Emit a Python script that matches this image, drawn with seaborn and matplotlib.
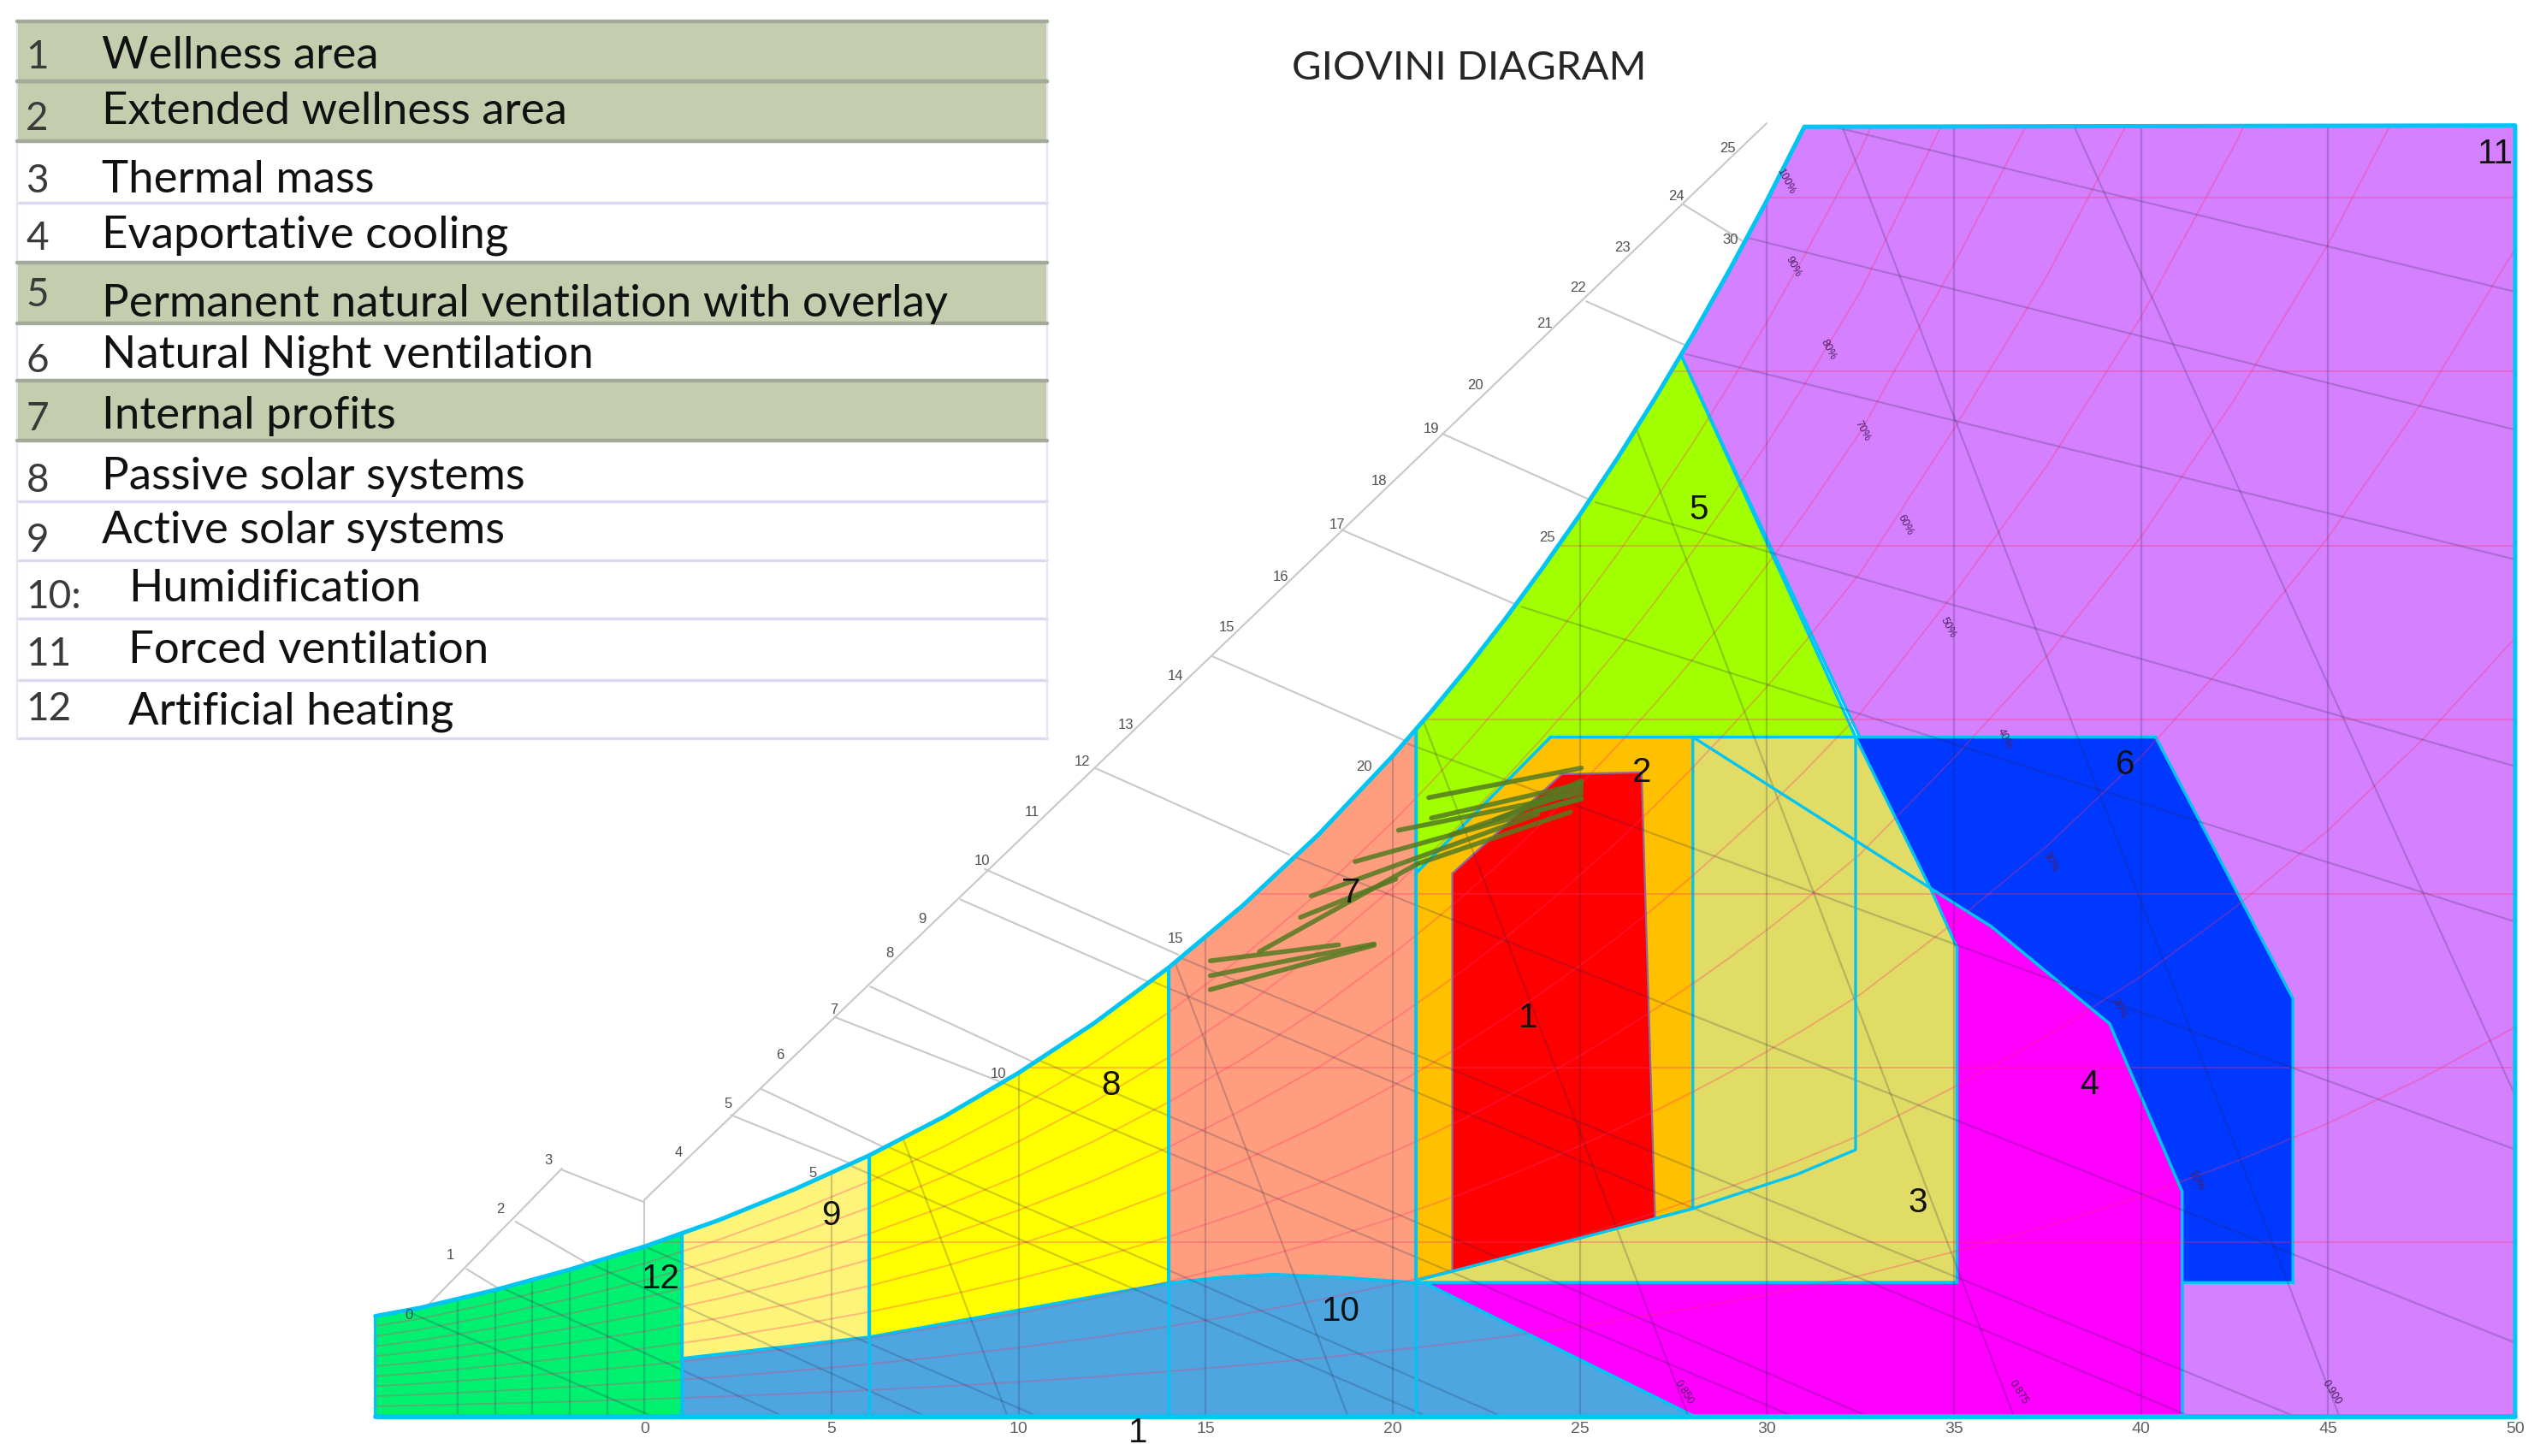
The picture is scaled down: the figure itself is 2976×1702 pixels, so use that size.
import numpy as np
import pandas as pd
import matplotlib
matplotlib.use("Agg")
import matplotlib.pyplot as plt
from matplotlib.patches import Polygon, Rectangle
import seaborn as sns

sns.set_theme(style="white")
plt.rcParams['font.family'] = ['Lato', 'DejaVu Sans']

# ---------------- legend table ----------------
legend_nums = ["1", "2", "3", "4", "5", "6", "7", "8", "9", "10:", "11", "12"]
legend_text = ["Wellness area", "Extended wellness area", "Thermal mass", "Evaportative cooling",
               "Permanent natural ventilation with overlay", "Natural Night ventilation",
               "Internal profits", "Passive solar systems", "Active solar systems",
               "Humidification", "Forced ventilation", "Artificial heating"]
legend_shaded = [1, 1, 0, 0, 1, 0, 1, 0, 0, 0, 0, 0]

# ---------------- chart data (dry bulb C, humidity ratio g/kg) ----------------
sat_T = [-7.2, -6, -4, -2, 0, 2, 4, 6, 8, 10, 12, 14, 16, 18, 20, 21, 22, 23, 24, 25, 26, 27,
         28, 29, 30, 31]
sat_W = [2.30, 2.49, 2.90, 3.37, 3.90, 4.51, 5.21, 5.99, 6.88, 7.89, 9.02, 10.30, 11.74, 13.35,
         15.17, 16.16, 17.20, 18.31, 19.48, 20.71, 22.00, 23.37, 24.81, 26.33, 27.93, 29.62]
# saturation above the chart top, only for the RH grid
sat_T_ext = [32.5, 35, 37.5, 40, 42.5, 45, 47.5, 50]
sat_W_ext = [32.3, 37.8, 43.7, 50.5, 58.4, 67.3, 77.6, 89.4]

T_MIN, T_MAX, W_TOP = -7.2, 50.0, 29.65
x_ticks = [0, 5, 10, 15, 20, 25, 30, 35, 40, 45, 50]
rh_levels = [0.1, 0.2, 0.3, 0.4, 0.5, 0.6, 0.7, 0.8, 0.9]
w_lines = [4, 8, 12, 16, 20, 24, 28]
t_lines = [-5, -4, -3, -2, -1, 0, 5, 10, 15, 20, 25, 30, 35, 40, 45]

# specific volume lines (bottom T, top point)
vol_T_bot = [9.7, 18.8, 27.9, 36.6, 45.3, 53.9]
vol_T_top = [6.9, 14.1, 20.8, 26.5, 32.0, 38.2]
vol_W_top = [6.4, 10.6, 16.0, 22.7, 29.65, 29.65]
vol_labels = ["0.850", "0.875", "0.900"]
vol_label_T = [27.78, 36.72, 45.09]

# diagonal lines across the chart
dg_T0 = [-6.36, -3.74, -1.41, 0.0, 5.52, 6.47, 9.46, 10.48, 13.54, 14.27, 17.23, 20.38, 23.42, 25.4, 27.82, 29.34, 31.64]
dg_W0 = [2.41, 2.92, 3.49, 3.9, 5.75, 6.2, 7.7, 8.2, 10.0, 10.55, 12.9, 15.45, 18.6, 21.0, 24.4, 27.1, 29.65]
dg_T1 = [0.2, 3.7, 7.5, 10.5, 20.9, 22.9, 30.7, 32.7, 41.3, 44.1, 50, 50, 50, 50, 50, 50, 50]
dg_W1 = [0, 0, 0, 0, 0, 0, 0, 0, 0, 0, 1.69, 6.13, 11.36, 14.93, 19.68, 22.66, 25.83]

# wet bulb scale above the curve
wb_T0 = [9.09, 8.44, 6.03, 5.08, 3.11, 2.31, -2.21, -3.45, -4.76, 21.32, 18.63, 15.19, 12.04, 27.74, 25.17, 0.0]
wb_W0 = [12.57, 11.87, 9.87, 9.17, 7.52, 6.92, 5.66, 4.47, 3.38, 22.57, 20.36, 17.45, 14.89, 27.85, 25.61, 4.94]
wb_T1 = [14.27, 13.54, 10.48, 9.46, 6.47, 5.52, -0.02, -1.41, -3.74, 25.4, 23.42, 20.38, 17.23, 29.34, 27.82, 0.0]
wb_W1 = [10.6, 9.95, 8.1, 7.7, 6.15, 5.8, 4.92, 3.45, 2.85, 21.0, 18.6, 15.5, 12.9, 27.0, 24.6, 3.9]
scale_T = [[-5.93, -2.21], [-0.02, 29.99]]
scale_W = [[2.43, 5.69], [4.96, 29.70]]
scale_labels = [str(i) for i in range(26)]
scale_lab_T = [-6.30, -5.20, -3.85, -2.57, 0.92, 2.24, 3.62, 5.05, 6.54, 7.42, 9.02, 10.35, 11.69,
               12.86, 14.18, 15.57, 17.0, 18.52, 19.64, 21.04, 22.2, 24.05, 24.94, 26.14, 27.58, 28.95]
scale_lab_W = [2.32, 3.69, 4.75, 5.87, 6.05, 7.17, 8.29, 9.34, 10.64, 11.41, 12.75, 13.87, 15.03,
               15.87, 16.99, 18.11, 19.28, 20.47, 21.47, 22.67, 23.68, 25.09, 25.92, 26.84, 28.02, 29.12]
curve_labels = ["5", "10", "15", "20", "25", "30"]
curve_lab_T = [4.5, 9.46, 14.2, 19.22, 24.12, 29.03]
curve_lab_W = [5.59, 7.87, 10.96, 14.92, 20.18, 27.01]
rh_labels = ["100%", "90%", "80%", "70%", "60%", "50%", "40%", "30%", "20%", "10%"]
rh_lab_T = [30.49, 30.71, 31.64, 32.56, 33.70, 34.84, 36.35, 37.58, 39.42, 41.46]
rh_lab_W = [28.37, 26.40, 24.51, 22.63, 20.48, 18.11, 15.55, 12.74, 9.37, 5.42]

# climate data segments
clim_T0 = [20.96, 21.03, 20.15, 18.99, 20.66, 17.82, 17.53, 16.43, 15.12, 15.12, 15.12, 22.71, 21.54, 23.5, 23.8]
clim_W0 = [14.21, 13.74, 13.46, 12.74, 12.69, 11.95, 11.46, 10.67, 10.46, 10.12, 9.80, 13.70, 13.35, 14.0, 13.9]
clim_T1 = [25.04, 25.04, 25.04, 25.04, 24.75, 23.87, 20.08, 20.66, 18.55, 19.50, 19.50, 25.04, 25.04, 25.04, 25.04]
clim_W1 = [14.89, 14.53, 14.31, 14.18, 13.88, 13.83, 12.34, 12.69, 10.83, 10.85, 10.82, 14.49, 14.40, 14.6, 14.2]

zone_labels = ["1", "2", "3", "4", "5", "6", "7", "8", "9", "10", "11", "12", "1"]
zone_lab_T = [23.61, 26.65, 34.03, 38.63, 28.17, 39.58, 18.88, 12.46, 4.99, 18.62, 49.48, 0.43, 13.19]
zone_lab_W = [9.15, 14.78, 4.9, 7.62, 20.82, 14.97, 12.02, 7.59, 4.6, 2.4, 28.99, 3.15, -0.39]


def sat(t):
    return float(np.interp(t, sat_T, sat_W))


def sat_segment(t0, t1):
    ts = [t0] + [t for t in sat_T if t0 < t < t1] + [t1]
    return [(t, sat(t)) for t in ts]


T_top = float(np.interp(W_TOP, sat_W, sat_T))

zone12 = [(T_MIN, 0)] + sat_segment(T_MIN, 1.0) + [(1.0, 0)]
zone9 = [(1.0, 1.33)] + sat_segment(1.0, 6.0) + [(6.0, 1.82)]
zone8 = [(6.0, 1.82)] + sat_segment(6.0, 14.0) + [(14.0, 3.06)]
zone7 = [(14.0, 3.06)] + sat_segment(14.0, 20.62) + [(20.62, 3.07), (18.5, 3.2), (16.8, 3.26), (15.5, 3.2)]
zone10 = [(1.0, 0), (1.0, 1.33), (6.0, 1.82), (14.0, 3.06), (15.5, 3.2), (16.8, 3.26), (18.5, 3.2),
          (20.62, 3.07), (20.84, 3.07), (28.06, 0)]
zone5 = sat_segment(20.62, 27.7) + [(32.37, 15.6), (24.22, 15.6), (20.62, 12.47)]
zone11 = sat_segment(27.7, T_top) + [(50, W_TOP), (50, 0), (41.1, 0), (41.1, 3.07), (35.08, 3.07),
                                     (35.08, 10.77), (34.37, 12.13)]
zone3 = [(20.62, 3.07), (20.62, 12.47), (24.22, 15.6), (32.37, 15.6), (34.37, 12.13), (35.08, 10.77),
         (35.08, 3.07)]
zone4 = [(20.84, 3.07), (35.08, 3.07), (35.08, 10.77), (34.37, 12.13), (36.0, 11.25), (39.16, 9.02),
         (41.1, 5.16), (41.1, 0), (28.06, 0)]
zone6 = [(32.37, 15.6), (40.39, 15.6), (44.06, 9.59), (44.06, 3.07), (41.1, 3.07), (41.1, 5.16),
         (39.16, 9.02), (36.0, 11.25), (34.37, 12.13)]
zone2 = [(20.62, 3.08), (20.62, 12.47), (24.22, 15.6), (28.02, 15.6), (28.02, 4.77), (20.67, 3.13)]
zone1 = [(21.59, 3.33), (21.59, 12.47), (24.52, 14.75), (26.65, 14.79), (27.01, 4.54)]
inner_T = [32.37, 32.37, 30.79, 28.02, 27.01, 21.59, 20.67]
inner_W = [15.6, 6.12, 5.55, 4.77, 4.54, 3.33, 3.13]

zones = [zone11, zone12, zone10, zone9, zone8, zone7, zone5, zone3, zone4, zone6, zone2, zone1]
zone_colors = ['#D580FF', '#00F070', '#4DA6E0', '#FFF47A', '#FFFF00', '#FF9E7E', '#A2FF00',
               '#E0DC66', '#FF00FF', '#0038FF', '#FFC000', '#FF0000']
CYAN = '#00C4F4'

fig = plt.figure(figsize=(29.76, 17.02), dpi=100)
ax = fig.add_axes([0, 0, 1, 1])
PX_T, PX_W = 23.04, 26.82
ax.set_xlim(-397 / PX_T, (1568 - 397) / PX_T)
ax.set_ylim(-(897 - 872.5) / PX_W, 872.5 / PX_W)
ax.set_axis_off()

# zone fills, each with its own edge so later zones hide earlier edges
for i, (pts, col) in enumerate(zip(zones, zone_colors)):
    xs, ys = zip(*pts)
    last = pts is zone1
    ax.fill(xs, ys, facecolor=col, edgecolor='#8C6AA0' if last else CYAN,
            lw=1.6 if last else 2.4, joinstyle='miter', zorder=1 + i * 0.01)

# chart area clip
outline = [(T_MIN, 0)] + sat_segment(T_MIN, T_top) + [(50, W_TOP), (50, 0)]
clip = Polygon(outline, closed=True, facecolor='none', edgecolor='none')
ax.add_patch(clip)


def grid_line(xs, ys, **kw):
    ln, = ax.plot(xs, ys, zorder=2, solid_capstyle='butt', **kw)
    ln.set_clip_path(clip)


DARK = dict(color='#24244A', alpha=0.22, lw=1.6)
PINK = dict(color='#FF2F6E', alpha=0.3, lw=1.4)
grid_T = sat_T + sat_T_ext
grid_W = sat_W + sat_W_ext
for rh in rh_levels:
    grid_line(grid_T, [rh * w for w in grid_W], **PINK)
for w in w_lines:
    grid_line([T_MIN, 50], [w, w], **PINK)
for t in t_lines:
    grid_line([t, t], [0, W_TOP], **DARK)
for tb, tt, wt in zip(vol_T_bot, vol_T_top, vol_W_top):
    grid_line([tt, tb], [wt, 0], **DARK)
for t0, w0, t1, w1 in zip(dg_T0, dg_W0, dg_T1, dg_W1):
    grid_line([t0, t1], [w0, w1], **DARK)

# wet bulb scale in the white area
for t0, w0, t1, w1 in zip(wb_T0, wb_W0, wb_T1, wb_W1):
    ax.plot([t0, t1], [w0, w1], color='#C8C8C8', lw=1.5, zorder=0.5)
for ts, ws in zip(scale_T, scale_W):
    ax.plot(ts, ws, color='#C8C8C8', lw=1.5, zorder=0.5)
for s, t, w in zip(scale_labels, scale_lab_T, scale_lab_W):
    ax.text(t, w, s, ha='center', va='center', fontsize=12, color='#505050',
            family='Liberation Sans', zorder=5)
for s, t, w in zip(curve_labels, curve_lab_T, curve_lab_W):
    ax.text(t, w, s, ha='center', va='center', fontsize=12, color='#505050',
            family='Liberation Sans', zorder=5)
for s, t, w in zip(rh_labels, rh_lab_T, rh_lab_W):
    ax.text(t, w, s, ha='center', va='center', fontsize=9, color='#4A2060', rotation=-62,
            family='Liberation Sans', zorder=5)
for s, t in zip(vol_labels, vol_label_T):
    ax.text(t, 0.55, s, ha='center', va='center', fontsize=9, color='#4A2060', rotation=-58,
            family='Liberation Sans', zorder=5)

# extra zone boundaries
for t in [1.0, 6.0, 14.0, 20.62]:
    ax.plot([t, t], [0, sat(t)], color=CYAN, lw=2.4, zorder=3)
ax.plot(inner_T, inner_W, color=CYAN, lw=2.4, zorder=3)
ax.plot([28.02, 34.37], [15.6, 12.13], color=CYAN, lw=2.4, zorder=3)
ox, oy = zip(*outline[1:])
ax.plot(ox, oy, color=CYAN, lw=3.6, zorder=3.2)
ax.plot([T_MIN, 50], [0, 0], color=CYAN, lw=4.2, zorder=3.2)

# climate lines
clim = pd.DataFrame({
    'T': [v for pair in zip(clim_T0, clim_T1) for v in pair],
    'W': [v for pair in zip(clim_W0, clim_W1) for v in pair],
    'seg': [i for i in range(len(clim_T0)) for _ in range(2)],
})
sns.lineplot(data=clim, x='T', y='W', units='seg', estimator=None, sort=False,
             color='#557A22', lw=4, alpha=0.85, ax=ax, legend=False, zorder=4)
ax.set_xlim(-397 / PX_T, (1568 - 397) / PX_T)
ax.set_ylim(-(897 - 872.5) / PX_W, 872.5 / PX_W)
ax.set_axis_off()

for s, t, w in zip(zone_labels, zone_lab_T, zone_lab_W):
    ax.text(t, w, s, ha='center', va='center', fontsize=29, color='#111111',
            family='Liberation Sans', zorder=5)
for t in x_ticks:
    ax.text(t, -0.3, str(t), ha='center', va='center', fontsize=14, color='#606060',
            family='Liberation Sans', zorder=5)

# title
fig.text(905 / 1568, 1 - 42 / 897, "GIOVINI DIAGRAM", ha='center', va='center',
         fontsize=34, color='#262626')

# legend table (layout in 1568x897 view units)
lax = fig.add_axes([0, 0, 1, 1])
lax.set_xlim(0, 1568)
lax.set_ylim(897, 0)
lax.set_axis_off()
row_top = [13, 50, 89.6, 125, 161.6, 199.3, 234.5, 271.3, 309, 345, 381, 418.9]
row_bot = [50, 87, 125, 161.6, 199.3, 234.5, 271.3, 309, 345, 381, 418.9, 455]
text_base = [42, 76.4, 118.5, 152.8, 195, 226.5, 264.3, 301.2, 334.6, 370.6, 408.3, 446.1]
num_base = [42, 79.9, 118.5, 153.7, 188.8, 229.3, 265.1, 303, 340, 374.8, 410, 443.5]
text_x = [62.5] * 9 + [79] * 3
TL, TR = 10.5, 645
for i in range(len(legend_text)):
    if legend_shaded[i]:
        lax.add_patch(Rectangle((TL, row_top[i]), TR - TL, row_bot[i] - row_top[i],
                                facecolor='#C4CDAE', edgecolor='none', zorder=1))
        for y in (row_top[i], row_bot[i]):
            lax.plot([TL, TR], [y, y], color='#A3AA99', lw=3.2, zorder=2)
    else:
        lax.plot([TL, TR], [row_bot[i], row_bot[i]], color='#DCD8F2', lw=2.4, zorder=1.5)
    lax.text(16, num_base[i], legend_nums[i], ha='left', va='baseline', fontsize=33,
             color='#3A3A3A', zorder=3)
    lax.text(text_x[i], text_base[i], legend_text[i], ha='left', va='baseline', fontsize=38,
             color='#111111', zorder=3)
lax.plot([TL, TL], [row_top[0], row_bot[-1]], color='#E6E3F4', lw=1.5, zorder=1.5)
lax.plot([TR, TR], [row_top[0], row_bot[-1]], color='#E6E3F4', lw=1.5, zorder=1.5)

fig.savefig('out.png', dpi=100)
